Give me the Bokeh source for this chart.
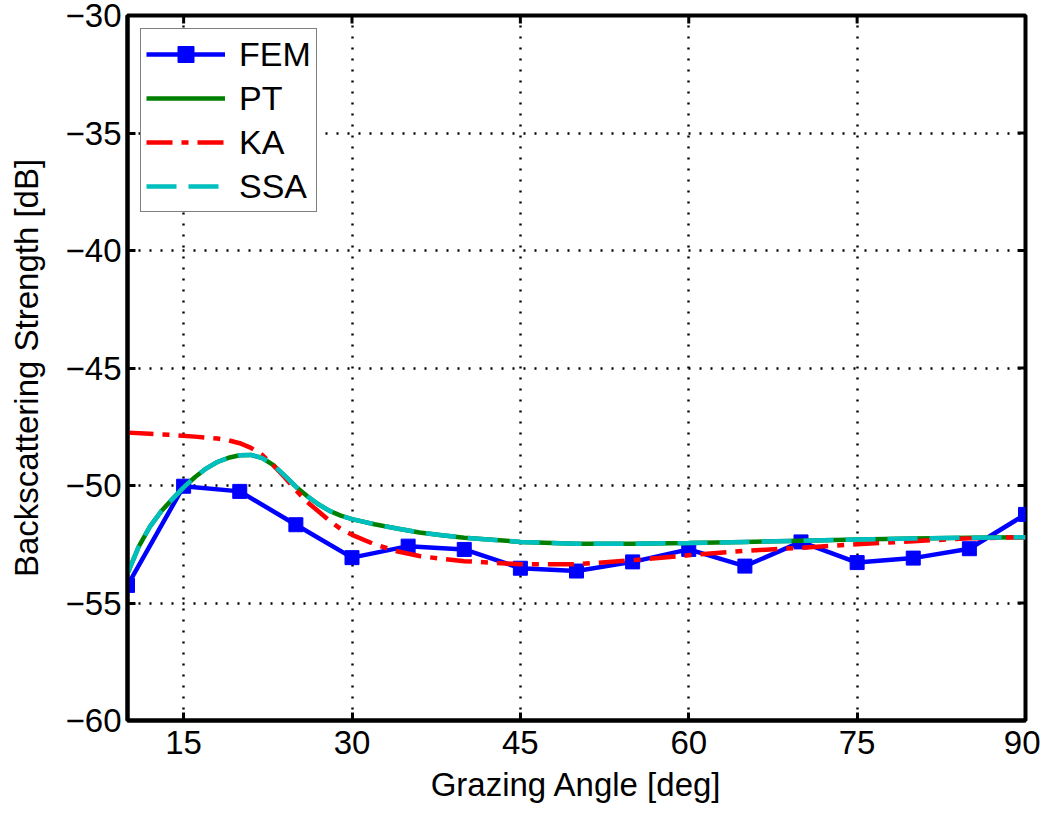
from bokeh.plotting import figure
from bokeh.models import FixedTicker, Legend, LegendItem, Range1d
from bokeh.embed import file_html
from bokeh.resources import INLINE

# ---- data ----
fem_x = [10, 15, 20, 25, 30, 35, 40, 45, 50, 55, 60, 65, 70, 75, 80, 85, 90]
fem_y = [-54.25, -50.03, -50.25, -51.67, -53.07, -52.58, -52.72, -53.52, -53.64,
         -53.25, -52.72, -53.43, -52.40, -53.28, -53.09, -52.69, -51.23]

pt_x = [10, 11, 12, 13, 14, 15, 16, 17, 18, 19, 20, 21, 22, 23, 24, 25, 26, 27,
        28, 29, 30, 32, 34, 36, 38, 40, 45, 50, 55, 60, 65, 70, 75, 80, 85, 90]
pt_y = [-53.75, -52.60, -51.75, -51.10, -50.58, -50.08, -49.65, -49.28, -49.00,
        -48.82, -48.71, -48.70, -48.83, -49.13, -49.58, -50.05, -50.45, -50.80,
        -51.08, -51.28, -51.43, -51.65, -51.83, -52.00, -52.12, -52.22, -52.40,
        -52.48, -52.48, -52.45, -52.40, -52.35, -52.30, -52.26, -52.22, -52.20]

ssa_x = list(pt_x)
ssa_y = list(pt_y)

ka_x = [10, 12, 14, 16, 18, 19, 20, 21, 22, 23, 24, 25, 26, 27, 28, 29, 30, 32,
        34, 36, 38, 40, 45, 50, 55, 60, 65, 70, 75, 80, 85, 90]
ka_y = [-47.75, -47.80, -47.85, -47.92, -48.00, -48.08, -48.20, -48.40, -48.70,
        -49.15, -49.65, -50.20, -50.70, -51.10, -51.50, -51.85, -52.10, -52.50,
        -52.80, -53.00, -53.12, -53.22, -53.35, -53.35, -53.18, -52.97, -52.78,
        -52.65, -52.50, -52.37, -52.25, -52.20]

x_ticks = [15, 30, 45, 60, 75, 90]
y_ticks = [-60, -55, -50, -45, -40, -35, -30]
y_tick_labels = ["\u221260", "\u221255", "\u221250", "\u221245", "\u221240", "\u221235", "\u221230"]

FONT = "Liberation Sans"
FS = "33px"

XMIN, XMAX, YMIN, YMAX = 10, 90, -60, -30

p = figure(width=1040, height=805, output_backend="svg", toolbar_location=None,
           x_range=Range1d(XMIN, XMAX), y_range=Range1d(YMIN, YMAX),
           min_border_left=127, min_border_right=15, min_border_top=15,
           min_border_bottom=82, background_fill_color="white",
           border_fill_color="white")

p.outline_line_color = "black"
p.outline_line_width = 4
p.outline_line_alpha = 1.0

for ax in (p.xaxis[0], p.yaxis[0]):
    ax.axis_line_width = 4
    ax.axis_line_color = "black"
    ax.major_tick_in = 8
    ax.major_tick_out = 0
    ax.major_tick_line_width = 3
    ax.minor_tick_line_color = None
    ax.major_label_text_font = FONT
    ax.major_label_text_font_size = FS
    ax.major_label_text_color = "black"
    ax.axis_label_text_font = FONT
    ax.axis_label_text_font_size = FS
    ax.axis_label_text_font_style = "normal"
    ax.axis_label_text_color = "black"

p.xaxis.ticker = FixedTicker(ticks=x_ticks)
p.yaxis.ticker = FixedTicker(ticks=y_ticks)
p.yaxis.major_label_overrides = {t: l for t, l in zip(y_ticks, y_tick_labels)}
p.xaxis.axis_label = "Grazing Angle [deg]"
p.yaxis.axis_label = "Backscattering Strength [dB]"
p.xaxis.major_label_standoff = 10
p.yaxis.major_label_standoff = 6
p.xaxis.axis_label_standoff = 9
p.yaxis.axis_label_standoff = 18

# inward tick marks on the top and right edges (box on)
tick_len_y = 8 * (YMAX - YMIN) / 708.0
tick_len_x = 8 * (XMAX - XMIN) / 898.0
p.segment(x0=x_ticks, y0=[YMAX] * len(x_ticks), x1=x_ticks,
          y1=[YMAX - tick_len_y] * len(x_ticks), line_color="black", line_width=3)
p.segment(x0=[XMAX] * len(y_ticks), y0=y_ticks, x1=[XMAX - tick_len_x] * len(y_ticks),
          y1=y_ticks, line_color="black", line_width=3)

p.xgrid.ticker = FixedTicker(ticks=x_ticks)
p.ygrid.ticker = FixedTicker(ticks=y_ticks)
for g in (p.xgrid[0], p.ygrid[0]):
    g.grid_line_color = "black"
    g.grid_line_width = 2.4
    g.grid_line_dash = "2 9"
    g.grid_line_alpha = 1.0

blue = "#0000FF"
green = "#008000"
red = "#FF0000"
cyan = "#00BFBF"

fem_line = p.line(fem_x, fem_y, line_color=blue, line_width=4.5)
fem_pts = p.scatter(fem_x, fem_y, marker="square", size=14, fill_color=blue,
                    line_color=blue)
pt_line = p.line(pt_x, pt_y, line_color=green, line_width=4.5)
ka_line = p.line(ka_x, ka_y, line_color=red, line_width=4.5, line_dash="26 9 7 9")
ssa_line = p.line(ssa_x, ssa_y, line_color=cyan, line_width=4.5, line_dash="30 12")

legend = Legend(items=[
    LegendItem(label="FEM", renderers=[fem_line, fem_pts]),
    LegendItem(label="PT", renderers=[pt_line]),
    LegendItem(label="KA", renderers=[ka_line]),
    LegendItem(label="SSA", renderers=[ssa_line]),
], location="top_left")
legend.margin = 13
legend.padding = 5
legend.spacing = 4
legend.glyph_width = 79
legend.glyph_height = 40
legend.label_height = 40
legend.label_standoff = 14
legend.label_text_font = FONT
legend.label_text_font_size = "34px"
legend.label_text_color = "black"
legend.border_line_color = "black"
legend.border_line_width = 1.5
legend.background_fill_color = "white"
legend.background_fill_alpha = 1.0
p.add_layout(legend, "center")

open("out.html", "w").write(file_html(p, INLINE))
